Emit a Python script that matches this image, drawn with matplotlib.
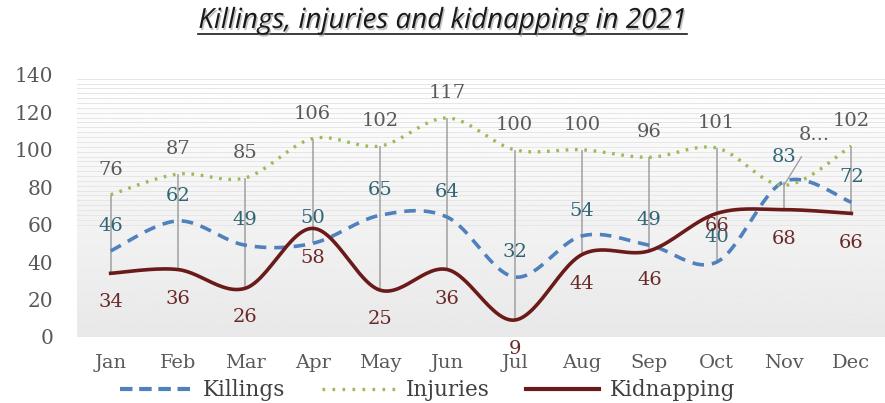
import matplotlib
matplotlib.use("Agg")
import matplotlib.pyplot as plt
import matplotlib.patheffects as pe
from matplotlib.lines import Line2D
import numpy as np

months = ["Jan", "Feb", "Mar", "Apr", "May", "Jun", "Jul", "Aug", "Sep", "Oct", "Nov", "Dec"]
killings = [46, 62, 49, 50, 65, 64, 32, 54, 49, 40, 83, 72]
injuries = [76, 87, 85, 106, 102, 117, 100, 100, 96, 101, 81, 102]
kidnapping = [34, 36, 26, 58, 25, 36, 9, 44, 46, 66, 68, 66]
injury_labels = ["76", "87", "85", "106", "102", "117", "100", "100", "96", "101", "8...", "102"]


def smooth(x, y, n=30):
    # Excel-style smoothing: cubic Bezier with Catmull-Rom control points
    x = np.asarray(x, float)
    y = np.asarray(y, float)
    px = np.concatenate([[x[0]], x, [x[-1]]])
    py = np.concatenate([[y[0]], y, [y[-1]]])
    xs, ys = [], []
    t = np.linspace(0, 1, n)
    for i in range(len(x) - 1):
        p0 = np.array([px[i + 1], py[i + 1]])
        p3 = np.array([px[i + 2], py[i + 2]])
        p1 = p0 + (np.array([px[i + 2], py[i + 2]]) - np.array([px[i], py[i]])) / 6
        p2 = p3 - (np.array([px[i + 3], py[i + 3]]) - np.array([px[i + 1], py[i + 1]])) / 6
        b = ((1 - t) ** 3)[:, None] * p0 + (3 * (1 - t) ** 2 * t)[:, None] * p1 \
            + (3 * (1 - t) * t ** 2)[:, None] * p2 + (t ** 3)[:, None] * p3
        xs.extend(b[:, 0])
        ys.extend(b[:, 1])
    return np.array(xs), np.array(ys)


fig = plt.figure(figsize=(8.85, 4.03), dpi=100)
ax = fig.add_axes([0.087, 0.164, 0.913, 0.65])
x = np.arange(len(months))

# plot area background: soft vertical gradient with fine stripes
grad = np.linspace(0.91, 1.0, 256)[:, None]
ax.imshow(grad, extent=(-0.5, 11.5, 0, 140), aspect="auto", cmap="gray",
          vmin=0, vmax=1, origin="lower", zorder=0)
for yy in np.arange(60, 140, 2.6):
    ax.axhline(yy, color="#e6e6e6", linewidth=0.7, zorder=0.5)

# high-low lines
for i in x:
    vals = [killings[i], injuries[i], kidnapping[i]]
    ax.vlines(i, min(vals), max(vals), color="#a0a0a0", linewidth=1.1, zorder=1)

sx, sy = smooth(x, killings)
ax.plot(sx, sy, color="#4f81bd", linewidth=2.6, dashes=(3.2, 2.2), zorder=3)
sx, sy = smooth(x, injuries)
ax.plot(sx, sy, color="#9bbb59", linewidth=2.4, dashes=(0.8, 2.0), zorder=3)
sx, sy = smooth(x, kidnapping)
ax.plot(sx, sy, color="#6b1a1a", linewidth=2.6, zorder=3)

serif = "DejaVu Serif"
lab_fs = 14
for i in x:
    if i == 10:
        ax.annotate(injury_labels[i], (i, injuries[i]), xytext=(22, 36),
                    textcoords="offset points", ha="center", va="center",
                    fontsize=lab_fs, family=serif, color="#595959",
                    arrowprops=dict(arrowstyle="-", color="#a0a0a0", lw=1,
                                    shrinkA=8, shrinkB=0))
    else:
        ax.annotate(injury_labels[i], (i, injuries[i]), xytext=(0, 18),
                    textcoords="offset points", ha="center", va="center",
                    fontsize=lab_fs, family=serif, color="#595959")
    ax.annotate(str(killings[i]), (i, killings[i]), xytext=(0, 18),
                textcoords="offset points", ha="center", va="center",
                fontsize=lab_fs, family=serif, color="#2f6574")
    off = -9 if i == 9 else -21
    ax.annotate(str(kidnapping[i]), (i, kidnapping[i]), xytext=(0, off),
                textcoords="offset points", ha="center", va="center",
                fontsize=lab_fs, family=serif, color="#6b2828")

ax.set_xlim(-0.5, 11.5)
ax.set_ylim(0, 140)
ax.set_yticks(range(0, 141, 20))
ax.set_xticks(x)
ax.set_xticklabels(months)
for s in ax.spines.values():
    s.set_visible(False)
ax.tick_params(length=0, labelsize=14, colors="#595959")
ax.tick_params(axis="y", labelsize=14.5, pad=17)
ax.tick_params(axis="x", pad=12)
for t in ax.get_xticklabels() + ax.get_yticklabels():
    t.set_family(serif)

handles = [
    Line2D([], [], color="#4f81bd", linewidth=3, dashes=(3.0, 1.6)),
    Line2D([], [], color="#9bbb59", linewidth=2.4, dashes=(0.8, 2.2)),
    Line2D([], [], color="#6b1a1a", linewidth=3),
]
leg = fig.legend(handles, ["Killings", "Injuries", "Kidnapping"], ncol=3,
                 loc="center", bbox_to_anchor=(0.483, 0.032), frameon=False,
                 handlelength=3.4, columnspacing=1.7, handletextpad=0.47,
                 prop={"family": serif, "size": 15.5})
for t in leg.get_texts():
    t.set_color("#404040")

title = fig.text(0.5, 0.948, "Killings, injuries and kidnapping in 2021",
                 ha="center", va="center", fontsize=20, style="italic",
                 family="Open Sans", color="#1a1a1a",
                 path_effects=[pe.withSimplePatchShadow(offset=(1, -1.5),
                                                        shadow_rgbFace="#999999",
                                                        alpha=0.6)])
fig.canvas.draw()
bb = title.get_window_extent().transformed(fig.transFigure.inverted())
fig.add_artist(Line2D([bb.x0, bb.x1], [bb.y0 + 0.003, bb.y0 + 0.003],
                      transform=fig.transFigure, color="#1a1a1a", linewidth=1.2))

fig.savefig("out.png", dpi=100)
